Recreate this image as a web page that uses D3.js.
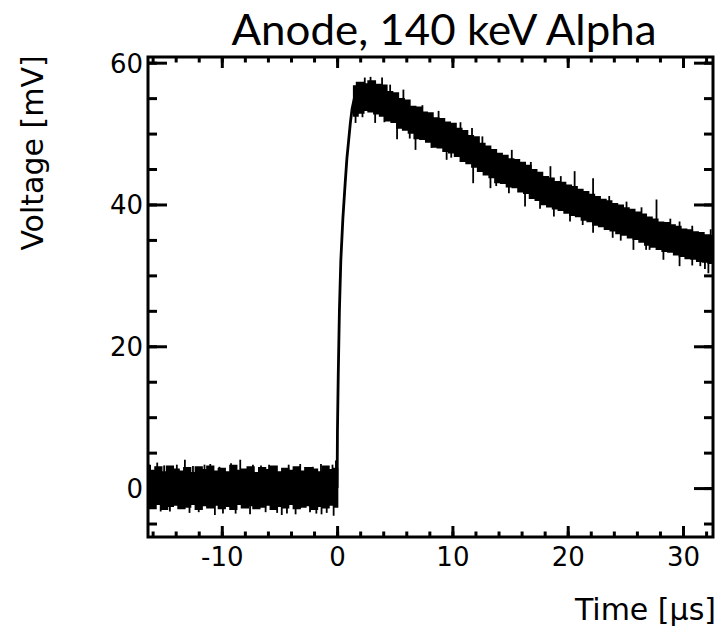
<!DOCTYPE html>
<html>
<head>
<meta charset="utf-8">
<script src="https://cdn.jsdelivr.net/npm/d3@7"></script>
<style>
  html, body { margin: 0; padding: 0; background: #fff; }
  svg { display: block; }
</style>
</head>
<body>
<svg id="chart" width="721" height="630"></svg>
<script>
// ---------------- data ----------------
const titleText = "Anode, 140 keV Alpha";
const xLabel = "Time [\u00b5s]";
const yLabel = "Voltage [mV]";

const xMajorTicks = [-10, 0, 10, 20, 30];
const xMinorTicks = [-16, -14, -12, -10, -8, -6, -4, -2, 0, 2, 4, 6, 8, 10, 12, 14, 16, 18, 20, 22, 24, 26, 28, 30, 32];
const yMajorTicks = [0, 20, 40, 60];
const yMinorTicks = [-5, 0, 5, 10, 15, 20, 25, 30, 35, 40, 45, 50, 55, 60];

// baseline noise band (before the pulse)
const baseTime  = [-16.5, -16, -15.5, -15, -14.5, -14, -13.5, -13, -12.5, -12, -11.5, -11, -10.5, -10, -9.5, -9, -8.5, -8, -7.5, -7, -6.5, -6, -5.5, -5, -4.5, -4, -3.5, -3, -2.5, -2, -1.5, -1, -0.5, 0];
const baseUpper = [3.1, 2.4, 2.9, 2.2, 3.0, 2.6, 2.3, 2.8, 2.1, 2.9, 2.5, 3.0, 2.3, 2.7, 2.2, 3.1, 2.4, 2.6, 2.9, 2.1, 2.8, 2.5, 3.0, 2.2, 2.7, 2.4, 2.9, 2.3, 2.8, 2.6, 2.2, 3.0, 2.5, 2.7];
const baseLower = [-2.4, -2.8, -2.2, -2.9, -2.5, -2.3, -2.8, -2.6, -2.2, -2.9, -2.4, -2.7, -2.3, -2.8, -2.5, -2.9, -2.2, -2.7, -2.4, -2.8, -2.6, -2.3, -2.9, -2.5, -2.7, -2.2, -2.8, -2.6, -2.4, -2.9, -2.5, -2.7, -2.3, -2.6];

// rising edge
const riseTime  = [0, 0.03, 0.1, 0.2, 0.32, 0.5, 0.7, 0.85, 1.0, 1.15, 1.3, 1.5];
const riseValue = [0, 8, 16, 25, 32, 38, 43, 46.5, 49, 51.5, 53.5, 55];

// decaying tail noise band
const tailTime  = [1.5, 2, 2.5, 3, 3.5, 4, 4.5, 5, 5.5, 6, 6.5, 7, 7.5, 8, 8.5, 9, 9.5, 10, 10.5, 11, 11.5, 12, 12.5, 13, 13.5, 14, 14.5, 15, 15.5, 16, 16.5, 17, 17.5, 18, 18.5, 19, 19.5, 20, 20.5, 21, 21.5, 22, 22.5, 23, 23.5, 24, 24.5, 25, 25.5, 26, 26.5, 27, 27.5, 28, 28.5, 29, 29.5, 30, 30.5, 31, 31.5, 32, 32.5, 32.7];
const tailUpper = [56.6, 57.1, 56.9, 57.3, 56.8, 56.7, 55.8, 55.6, 54.8, 54.6, 53.7, 53.6, 52.9, 52.8, 52.1, 52.0, 51.5, 51.3, 50.6, 50.3, 49.6, 49.4, 48.5, 48.1, 47.6, 47.1, 46.8, 46.3, 46.2, 45.8, 45.4, 44.8, 44.4, 43.8, 43.6, 43.1, 43.0, 42.6, 42.4, 42.0, 41.7, 41.3, 41.0, 40.6, 40.4, 40.0, 39.8, 39.4, 39.2, 38.8, 38.5, 38.1, 37.8, 37.4, 37.3, 37.0, 36.8, 36.4, 36.3, 36.0, 35.9, 35.6, 35.5, 35.4];
const tailLower = [52.6, 53.0, 53.4, 53.2, 52.9, 52.6, 51.9, 51.7, 50.9, 50.6, 50.2, 49.4, 49.3, 48.9, 48.2, 48.1, 47.6, 47.4, 46.9, 46.2, 45.9, 45.4, 44.8, 44.3, 43.9, 43.2, 43.1, 42.6, 42.5, 41.9, 41.7, 41.0, 40.7, 40.1, 39.8, 39.5, 39.3, 38.9, 38.6, 38.4, 37.9, 37.7, 37.2, 37.0, 36.6, 36.4, 36.0, 35.8, 35.4, 35.2, 34.8, 34.4, 34.1, 33.8, 33.5, 33.4, 33.0, 32.8, 32.5, 32.4, 32.1, 32.0, 31.8, 31.9];

// isolated noise spikes sticking out of the band: time, tip value, band value
const spikeTime = [-16.3, -15.0, -13.9, -13.2, -12.5, -11.5, -10.2, -8.4, -7.3, -5.9, -4.2, -3.2, -2.1, -0.4, -0.1,
                   -15.6, -9.2, -6.6, -1.4, -11.0,
                   -10.6, -9.9, -7.55, -5.2, -4.8, -4.35, -2.35, -1.35, -0.9, -0.3, -14.5, -12.0,
                   -15.3, -12.8, -8.8, -6.2, -3.6, -1.8,
                   2.4, 3.9, 5.75, 8.8, 11.7, 15.15, 18.5, 20.6, 22.2, 27.7, 29.7,
                   2.9, 4.6, 7.4, 10.7, 12.6, 16.8, 19.4, 23.6, 25.1, 26.4, 28.9, 30.8, 32.4,
                   1.6, 3.3, 5.2, 6.8, 9.5, 11.8, 13.3, 14.9, 16.3, 18.8, 20.2, 22.2, 25.7, 27.1, 28.3, 29.7, 31.5, 32.2,
                   2.2, 4.1, 6.3, 8.2, 9.9, 13.8, 17.6, 21.3, 23.9, 24.6, 26.8, 30.8, 31.9];
const spikeTip  = [3.3, 3.2, 3.3, 4.0, 3.1, 3.3, 3.0, 4.0, 3.3, 3.3, 3.3, 3.4, 3.0, 3.3, 3.9,
                   3.6, 3.5, 3.2, 3.4, 3.4,
                   -3.8, -3.6, -3.7, -3.5, -3.8, -3.6, -3.4, -3.7, -3.5, -3.9, -3.3, -3.4,
                   -3.3, -3.5, -3.6, -3.4, -3.7, -3.6,
                   57.9, 57.9, 56.2, 53.2, 50.8, 47.7, 45.4, 44.7, 43.7, 40.7, 37.6,
                   58.0, 56.9, 54.0, 51.6, 49.6, 46.0, 44.0, 41.2, 40.4, 39.6, 38.0, 37.0, 36.5,
                   51.5, 51.5, 49.2, 47.7, 46.3, 43.0, 42.3, 41.6, 39.7, 38.3, 37.6, 36.0, 33.6, 33.6, 32.2, 31.3, 31.3, 30.3,
                   52.3, 51.6, 49.3, 48.0, 46.6, 42.6, 39.4, 37.1, 35.3, 34.9, 33.6, 31.4, 30.9];
const spikeBase = [0, 0, 0, 0, 0, 0, 0, 0, 0, 0, 0, 0, 0, 0, 0,
                   0, 0, 0, 0, 0,
                   0, 0, 0, 0, 0, 0, 0, 0, 0, 0, 0, 0,
                   0, 0, 0, 0, 0, 0,
                   55, 54.6, 53.4, 50, 47.8, 44.6, 41.6, 40.6, 39.6, 36.1, 35.0,
                   55.3, 53.9, 51.3, 48.6, 46.7, 43.2, 41.2, 38.4, 37.5, 36.7, 35.2, 34.3, 33.7,
                   55, 55.2, 53.4, 51.6, 49.6, 47.8, 46.4, 44.8, 43.6, 41.6, 40.5, 39.6, 37.1, 36.4, 35.5, 35.0, 34.0, 33.8,
                   55.2, 54.7, 52.2, 50.6, 49.4, 45.5, 42.4, 40.0, 38.3, 37.8, 36.5, 34.3, 33.8];

// ---------------- drawing ----------------
const svg = d3.select("#chart");
const X0 = 148, X1 = 713, Y0 = 57, Y1 = 537;

const x = d3.scaleLinear().domain([-16.4, 32.6]).range([X0, X1]);
const y = d3.scaleLinear().domain([-6.9, 60.8]).range([Y1, Y0]);

svg.append("defs").append("clipPath").attr("id", "plotclip")
  .append("rect").attr("x", X0).attr("y", Y0).attr("width", X1 - X0).attr("height", Y1 - Y0);

const plot = svg.append("g").attr("clip-path", "url(#plotclip)");

function band(times, up, lo) {
  return times.map((t, i) => ({ t: t, u: up[i], l: lo[i] }));
}
const area = d3.area()
  .x(d => x(d.t)).y0(d => y(d.l)).y1(d => y(d.u))
  .curve(d3.curveStep);

plot.append("path").datum(band(baseTime, baseUpper, baseLower))
  .attr("d", area).attr("fill", "#000").attr("stroke", "#000").attr("stroke-width", 2.5);
plot.append("path").datum(band(tailTime, tailUpper, tailLower))
  .attr("d", area).attr("fill", "#000").attr("stroke", "#000").attr("stroke-width", 3);

const riseData = riseTime.map((t, i) => ({ t: t, v: riseValue[i] }));
plot.append("path").datum(riseData)
  .attr("d", d3.line().x(d => x(d.t)).y(d => y(d.v)))
  .attr("fill", "none").attr("stroke", "#000").attr("stroke-width", 2.8);

plot.selectAll("line.spike").data(spikeTime.map((t, i) => ({ t: t, tip: spikeTip[i], b: spikeBase[i] })))
  .enter().append("line").attr("class", "spike")
  .attr("x1", d => x(d.t)).attr("x2", d => x(d.t))
  .attr("y1", d => y(d.b)).attr("y2", d => y(d.tip))
  .attr("stroke", "#000").attr("stroke-width", 1.8);

// ticks (inward, on all four sides)
const tickStyle = sel => {
  sel.select(".domain").remove();
  sel.selectAll(".tick line").attr("stroke", "#000").attr("stroke-width", 3);
};
function axisGroup(axis, tx, ty) {
  const g = svg.append("g").attr("transform", `translate(${tx},${ty})`).call(axis);
  tickStyle(g);
  return g;
}
const plainFmt = d => String(d);
// bottom
axisGroup(d3.axisBottom(x).tickValues(xMinorTicks).tickSize(-5.5).tickFormat(""), 0, Y1);
const gxb = axisGroup(d3.axisBottom(x).tickValues(xMajorTicks).tickSize(-11).tickFormat(plainFmt), 0, Y1);
gxb.selectAll(".tick text")
  .attr("y", 29).attr("dy", 0)
  .attr("font-family", "DejaVu Sans").attr("font-size", 26).attr("fill", "#000");
// top
axisGroup(d3.axisTop(x).tickValues(xMinorTicks).tickSize(-5.5).tickFormat(""), 0, Y0);
axisGroup(d3.axisTop(x).tickValues(xMajorTicks).tickSize(-11).tickFormat(""), 0, Y0);
// left
axisGroup(d3.axisLeft(y).tickValues(yMinorTicks).tickSize(-9).tickFormat(""), X0, 0);
const gyl = axisGroup(d3.axisLeft(y).tickValues(yMajorTicks).tickSize(-19).tickFormat(plainFmt), X0, 0);
gyl.selectAll(".tick text")
  .attr("x", -5).attr("dy", "0.36em")
  .attr("font-family", "DejaVu Sans").attr("font-size", 26).attr("fill", "#000");
// right
axisGroup(d3.axisRight(y).tickValues(yMinorTicks).tickSize(-9).tickFormat(""), X1, 0);
axisGroup(d3.axisRight(y).tickValues(yMajorTicks).tickSize(-19).tickFormat(""), X1, 0);

// frame
svg.append("rect").attr("x", X0).attr("y", Y0).attr("width", X1 - X0).attr("height", Y1 - Y0)
  .attr("fill", "none").attr("stroke", "#000").attr("stroke-width", 3);

// title
svg.append("text").text(titleText)
  .attr("x", 444).attr("y", 45).attr("text-anchor", "middle")
  .attr("font-family", "Lato, 'Open Sans', sans-serif").attr("font-size", 42)
  .attr("textLength", 425).attr("lengthAdjust", "spacingAndGlyphs")
  .attr("fill", "#000");

// axis labels
svg.append("text").text(xLabel)
  .attr("x", 716).attr("y", 620).attr("text-anchor", "end")
  .attr("font-family", "DejaVu Sans").attr("font-size", 30).attr("fill", "#000");

svg.append("text").text(yLabel)
  .attr("transform", "translate(43,153) rotate(-90)")
  .attr("text-anchor", "middle")
  .attr("font-family", "DejaVu Sans").attr("font-size", 30).attr("fill", "#000");
</script>
</body>
</html>
